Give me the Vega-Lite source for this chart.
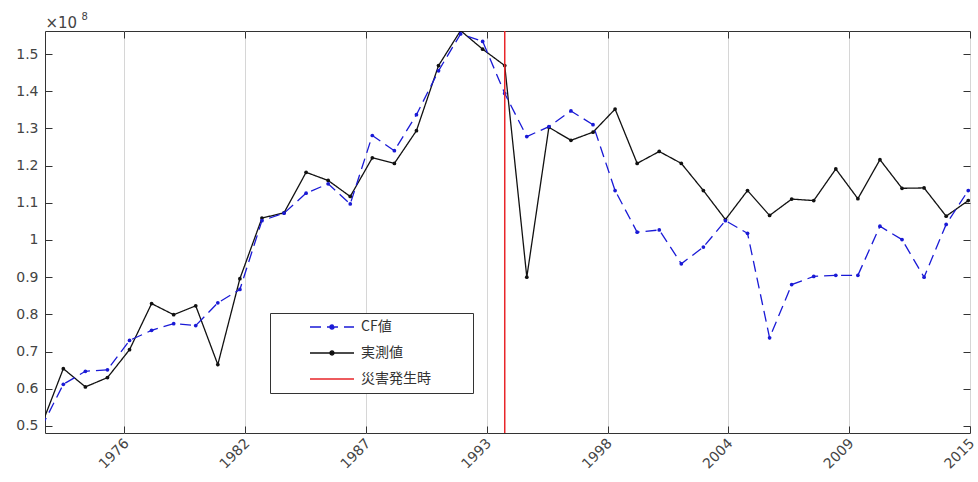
{
  "$schema": "https://vega.github.io/schema/vega-lite/v6.json",
  "width": 925,
  "height": 402,
  "autosize": "none",
  "padding": {"left": 45, "top": 31, "right": 8, "bottom": 49},
  "background": "white",
  "config": {
    "font": "DejaVu Sans",
    "view": {"stroke": "#333333", "strokeWidth": 1},
    "axis": {
      "labelFont": "DejaVu Sans",
      "labelFontSize": 14,
      "labelColor": "#444444",
      "tickColor": "#333333",
      "tickWidth": 1,
      "domain": false,
      "grid": false,
      "title": null
    }
  },
  "datasets": {
    "cargo": [
      {"year": 1973, "series": "実測値", "value": 0.500}, {"year": 1973, "series": "CF値", "value": 0.495},
      {"year": 1974, "series": "実測値", "value": 0.654}, {"year": 1974, "series": "CF値", "value": 0.612},
      {"year": 1975, "series": "実測値", "value": 0.605}, {"year": 1975, "series": "CF値", "value": 0.647},
      {"year": 1976, "series": "実測値", "value": 0.630}, {"year": 1976, "series": "CF値", "value": 0.651},
      {"year": 1977, "series": "実測値", "value": 0.705}, {"year": 1977, "series": "CF値", "value": 0.730},
      {"year": 1978, "series": "実測値", "value": 0.829}, {"year": 1978, "series": "CF値", "value": 0.757},
      {"year": 1979, "series": "実測値", "value": 0.799}, {"year": 1979, "series": "CF値", "value": 0.775},
      {"year": 1980, "series": "実測値", "value": 0.823}, {"year": 1980, "series": "CF値", "value": 0.770},
      {"year": 1981, "series": "実測値", "value": 0.665}, {"year": 1981, "series": "CF値", "value": 0.831},
      {"year": 1982, "series": "実測値", "value": 0.896}, {"year": 1982, "series": "CF値", "value": 0.867},
      {"year": 1983, "series": "実測値", "value": 1.059}, {"year": 1983, "series": "CF値", "value": 1.052},
      {"year": 1984, "series": "実測値", "value": 1.073}, {"year": 1984, "series": "CF値", "value": 1.072},
      {"year": 1985, "series": "実測値", "value": 1.182}, {"year": 1985, "series": "CF値", "value": 1.126},
      {"year": 1986, "series": "実測値", "value": 1.160}, {"year": 1986, "series": "CF値", "value": 1.151},
      {"year": 1987, "series": "実測値", "value": 1.117}, {"year": 1987, "series": "CF値", "value": 1.097},
      {"year": 1988, "series": "実測値", "value": 1.221}, {"year": 1988, "series": "CF値", "value": 1.281},
      {"year": 1989, "series": "実測値", "value": 1.206}, {"year": 1989, "series": "CF値", "value": 1.240},
      {"year": 1990, "series": "実測値", "value": 1.294}, {"year": 1990, "series": "CF値", "value": 1.337},
      {"year": 1991, "series": "実測値", "value": 1.469}, {"year": 1991, "series": "CF値", "value": 1.455},
      {"year": 1992, "series": "実測値", "value": 1.563}, {"year": 1992, "series": "CF値", "value": 1.554},
      {"year": 1993, "series": "実測値", "value": 1.513}, {"year": 1993, "series": "CF値", "value": 1.534},
      {"year": 1994, "series": "実測値", "value": 1.469}, {"year": 1994, "series": "CF値", "value": 1.394},
      {"year": 1995, "series": "実測値", "value": 0.900}, {"year": 1995, "series": "CF値", "value": 1.278},
      {"year": 1996, "series": "実測値", "value": 1.303}, {"year": 1996, "series": "CF値", "value": 1.305},
      {"year": 1997, "series": "実測値", "value": 1.268}, {"year": 1997, "series": "CF値", "value": 1.347},
      {"year": 1998, "series": "実測値", "value": 1.290}, {"year": 1998, "series": "CF値", "value": 1.310},
      {"year": 1999, "series": "実測値", "value": 1.352}, {"year": 1999, "series": "CF値", "value": 1.133},
      {"year": 2000, "series": "実測値", "value": 1.206}, {"year": 2000, "series": "CF値", "value": 1.021},
      {"year": 2001, "series": "実測値", "value": 1.238}, {"year": 2001, "series": "CF値", "value": 1.027},
      {"year": 2002, "series": "実測値", "value": 1.206}, {"year": 2002, "series": "CF値", "value": 0.936},
      {"year": 2003, "series": "実測値", "value": 1.133}, {"year": 2003, "series": "CF値", "value": 0.981},
      {"year": 2004, "series": "実測値", "value": 1.055}, {"year": 2004, "series": "CF値", "value": 1.052},
      {"year": 2005, "series": "実測値", "value": 1.133}, {"year": 2005, "series": "CF値", "value": 1.018},
      {"year": 2006, "series": "実測値", "value": 1.066}, {"year": 2006, "series": "CF値", "value": 0.737},
      {"year": 2007, "series": "実測値", "value": 1.110}, {"year": 2007, "series": "CF値", "value": 0.880},
      {"year": 2008, "series": "実測値", "value": 1.106}, {"year": 2008, "series": "CF値", "value": 0.902},
      {"year": 2009, "series": "実測値", "value": 1.191}, {"year": 2009, "series": "CF値", "value": 0.905},
      {"year": 2010, "series": "実測値", "value": 1.111}, {"year": 2010, "series": "CF値", "value": 0.905},
      {"year": 2011, "series": "実測値", "value": 1.216}, {"year": 2011, "series": "CF値", "value": 1.037},
      {"year": 2012, "series": "実測値", "value": 1.139}, {"year": 2012, "series": "CF値", "value": 1.001},
      {"year": 2013, "series": "実測値", "value": 1.140}, {"year": 2013, "series": "CF値", "value": 0.900},
      {"year": 2014, "series": "実測値", "value": 1.064}, {"year": 2014, "series": "CF値", "value": 1.042},
      {"year": 2015, "series": "実測値", "value": 1.106}, {"year": 2015, "series": "CF値", "value": 1.133}
    ],
    "event": [{"year": 1994, "series": "災害発生時"}]
  },
  "layer": [
    {
      "data": {"name": "cargo"},
      "mark": {"type": "line", "clip": true, "strokeWidth": 1.3},
      "encoding": {
        "x": {
          "field": "year", "type": "quantitative",
          "scale": {"domain": [1973.17, 2015.08], "nice": false, "zero": false},
          "axis": {
            "orient": "bottom",
            "values": [1976.77, 1982.24, 1987.72, 1993.19, 1998.66, 2004.13, 2009.61, 2015.08],
            "labelExpr": "floor(datum.value)",
            "grid": true, "gridColor": "#d6d6d6", "gridWidth": 1,
            "tickSize": -7, "labelPadding": 10, "labelOffset": -3,
            "labelAngle": -45, "labelAlign": "right", "labelBaseline": "top"
          }
        },
        "y": {
          "field": "value", "type": "quantitative",
          "scale": {"domain": [0.481, 1.562], "nice": false, "zero": false},
          "axis": {
            "orient": "left",
            "values": [0.5, 0.6, 0.7, 0.8, 0.9, 1.0, 1.1, 1.2, 1.3, 1.4, 1.5],
            "labelExpr": "format(datum.value, '.1~f')",
            "tickSize": -7, "labelPadding": 14,
            "title": "×10", "titleAngle": 0, "titleX": 0, "titleY": -4,
            "titleAlign": "left", "titleBaseline": "alphabetic",
            "titleFont": "DejaVu Sans", "titleFontSize": 15, "titleFontWeight": "normal", "titleColor": "#444444"
          }
        },
        "color": {
          "field": "series", "type": "nominal",
          "scale": {"domain": ["CF値", "実測値", "災害発生時"], "range": ["#1a1ad6", "#111111", "#e8262a"]},
          "legend": {
            "orient": "none", "legendX": 225, "legendY": 282,
            "title": null,
            "fillColor": "white", "strokeColor": "#333333", "padding": 7,
            "symbolSize": 100, "symbolOffset": 48, "labelOffset": 22, "rowPadding": 12,
            "labelFont": "Noto Sans CJK JP", "labelFontSize": 14, "labelColor": "#333333",
            "labelExpr": "datum.label + '\u3000\u3000\u2002\u200b'",
            "encode": {
              "symbols": {
                "update": {
                  "shape": {"signal": "datum.value === '災害発生時' ? 'M-4.4,0H4.4' : 'M-4.4,0H4.4M0.4,0A0.4,0.4,0,1,1,-0.4,0A0.4,0.4,0,1,1,0.4,0Z'"},
                  "strokeDash": {"signal": "datum.value === 'CF値' ? [8, 4] : [1, 0]"},
                  "stroke": {"signal": "scale('color', datum.value)"},
                  "fill": {"signal": "scale('color', datum.value)"},
                  "strokeWidth": {"value": 1.3},
                  "opacity": {"value": 1}
                }
              }
            }
          }
        },
        "strokeDash": {
          "field": "series", "type": "nominal",
          "scale": {"domain": ["CF値", "実測値", "災害発生時"], "range": [[11, 6], [1, 0], [1, 0]]},
          "legend": null
        }
      }
    },
    {
      "data": {"name": "cargo"},
      "mark": {"type": "point", "filled": true, "size": 14, "opacity": 1, "clip": true},
      "encoding": {
        "x": {"field": "year", "type": "quantitative", "axis": null},
        "y": {
          "field": "value", "type": "quantitative",
          "axis": {
            "orient": "right",
            "values": [0.5, 0.6, 0.7, 0.8, 0.9, 1.0, 1.1, 1.2, 1.3, 1.4, 1.5],
            "labels": false, "tickSize": -7
          }
        },
        "color": {"field": "series", "type": "nominal"}
      }
    },
    {
      "data": {"name": "event"},
      "mark": {"type": "rule", "strokeWidth": 1.5},
      "encoding": {
        "x": {
          "field": "year", "type": "quantitative",
          "axis": {
            "orient": "top",
            "values": [1976.77, 1982.24, 1987.72, 1993.19, 1998.66, 2004.13, 2009.61, 2015.08],
            "labels": false, "tickSize": -7,
            "title": "8", "titleAngle": 0, "titleX": 36, "titleY": -12,
            "titleAlign": "left", "titleBaseline": "alphabetic",
            "titleFont": "DejaVu Sans", "titleFontSize": 10, "titleFontWeight": "normal", "titleColor": "#444444"
          }
        },
        "color": {"field": "series", "type": "nominal"}
      }
    }
  ],
  "resolve": {"axis": {"x": "independent", "y": "independent"}}
}
